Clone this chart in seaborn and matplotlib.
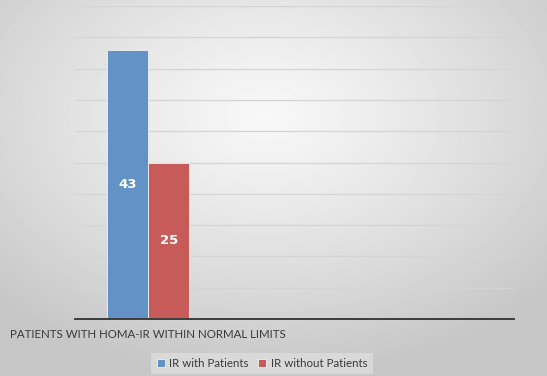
import matplotlib
matplotlib.use("Agg")
import matplotlib.pyplot as plt
import numpy as np
import pandas as pd
import seaborn as sns

# ── Data ──────────────────────────────────────────────────────────────
categories = ["PATIENTS WITH HOMA-IR WITHIN NORMAL LIMITS"]
series = ["IR with Patients", "IR without Patients"]
values = [43, 25]
colors = ["#6292c6", "#c75b5a"]

df = pd.DataFrame({
    "category": categories * len(series),
    "series": series,
    "value": values,
})

sns.set_theme(style="white")
plt.rcParams["font.family"] = ["Lato", "DejaVu Sans"]

fig = plt.figure(figsize=(5.47, 3.76), dpi=100)

# radial gray gradient background
bg = fig.add_axes([0, 0, 1, 1], zorder=-10)
yy, xx = np.mgrid[0:376, 0:547]
r = np.sqrt(((xx - 265) / 547.0) ** 2 + ((yy - 115) / 376.0) ** 2)
shade = np.clip(0.97 - 0.30 * r ** 1.2, 0.78, 0.97)
bg.imshow(shade, cmap="gray", vmin=0, vmax=1, aspect="auto", interpolation="bilinear")
bg.axis("off")

ax = fig.add_axes([75 / 547, 57 / 376, 439 / 547, 313 / 376])
ax.patch.set_alpha(0)

sns.barplot(data=df, x="category", y="value", hue="series", palette=colors,
            saturation=1, width=0.56, edgecolor="#f2f2f2", linewidth=0.6,
            ax=ax, legend=True)

for cont in ax.containers:
    ax.bar_label(cont, label_type="center", color="white", fontsize=9.5,
                 fontweight="bold", family="DejaVu Sans")

ax.set_xlim(-0.5, 2.5)
ax.set_ylim(0, 50)
ax.set_yticks(np.arange(0, 51, 5))
ax.yaxis.grid(True, color="#d4d4d4", lw=0.9)
ax.set_axisbelow(True)
ax.tick_params(axis="y", left=False, labelleft=False)
ax.tick_params(axis="x", bottom=False, pad=1, labelsize=8.3, labelcolor="#3a3a3a")
ax.set_xlabel("")
ax.set_ylabel("")
for s in ["top", "right", "left"]:
    ax.spines[s].set_visible(False)
ax.spines["bottom"].set_color("#3c3c3c")
ax.spines["bottom"].set_linewidth(1.4)

ax.legend(loc="lower center", bbox_to_anchor=(0.479, 0.004),
          bbox_transform=fig.transFigure, ncol=2, frameon=True, fontsize=8.3,
          facecolor="#e4e4e4", edgecolor="none", framealpha=0.6,
          handlelength=0.7, handleheight=0.7, handletextpad=0.4,
          columnspacing=0.8, borderpad=0.45, borderaxespad=0.05, fancybox=False,
          labelcolor="#3a3a3a")

fig.savefig("out.png", dpi=100)
